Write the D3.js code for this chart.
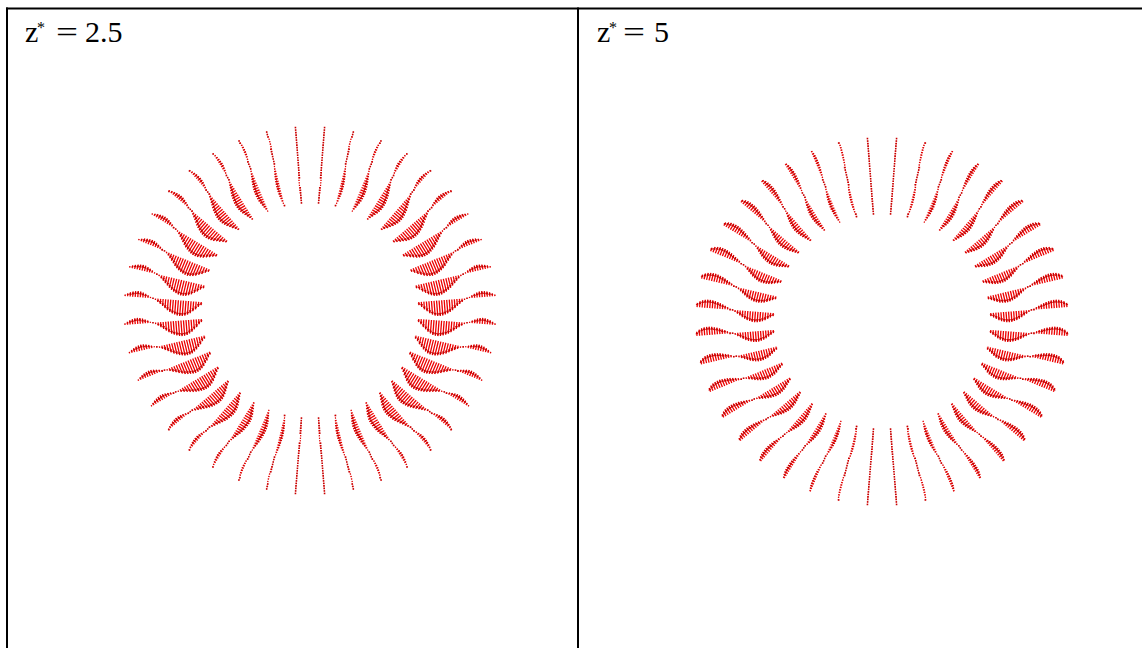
<!DOCTYPE html>
<html>
<head>
<meta charset="utf-8">
<script src="https://cdn.jsdelivr.net/npm/d3@7"></script>
<style>
  html, body { margin: 0; padding: 0; background: #fff; }
  svg { display: block; }
  .title text { font-family: "Liberation Serif", "Times New Roman", "DejaVu Serif", serif; fill: #000; }
</style>
</head>
<body>
<svg id="chart" width="1142" height="648"></svg>
<script>
// Annular gap geometry (dimensionless radius) and the sampling mesh
const innerRadius = 1.0;
const outerRadius = 1.7;
const spokeCount = 40;          // radial lines of arrows
const spokeOffsetDeg = 4.5;     // first line sits half a step off the axis
const stationCount = 31;        // arrows along each radial line

// Panel titles (z* values)
const panelLabels = ["2.5", "5"];

// Azimuthal velocity amplitude along the gap, inner wall -> outer wall
const uThetaZ25 = [-0.20, -0.33, -0.50, -0.63, -0.77, -0.87, -0.95, -0.99, -1.00, -0.98,
                   -0.93, -0.87, -0.79, -0.69, -0.57, -0.45, -0.33, -0.21, -0.10, -0.01,
                    0.08,  0.17,  0.25,  0.32,  0.37,  0.39,  0.37,  0.33,  0.27,  0.19, 0.10];
const uThetaZ5  = [-0.20, -0.30, -0.40, -0.50, -0.58, -0.63, -0.67, -0.68, -0.67, -0.63,
                   -0.58, -0.51, -0.42, -0.32, -0.22, -0.12, -0.03,  0.06,  0.15,  0.23,
                    0.30,  0.37,  0.43,  0.47,  0.51,  0.53,  0.53,  0.51,  0.47,  0.39, 0.27];

const profiles = [uThetaZ25, uThetaZ5];

// Quiver length: data units per unit of velocity
const quiverScale = 0.145;

const svg = d3.select("#chart");
svg.append("rect").attr("width", 1142).attr("height", 648).attr("fill", "#fff");

// Panel centres and title placement
const panels = [
  { cx: 310, cy: 310.5, label: { z: 25, star: 37, eqMid: 67, num: 85 } },
  { cx: 882, cy: 321.5, label: { z: 597, star: 609, eqMid: 634, num: 654 } }
];

const radialMesh = d3.range(stationCount).map(i => innerRadius + (outerRadius - innerRadius) * i / (stationCount - 1));
const spokeAngles = d3.range(spokeCount).map(k => (spokeOffsetDeg + k * 360 / spokeCount) * Math.PI / 180);

panels.forEach((p, pi) => {
  const x = d3.scaleLinear().domain([-outerRadius, outerRadius]).range([p.cx - 185.5, p.cx + 185.5]);
  const y = d3.scaleLinear().domain([-outerRadius, outerRadius]).range([p.cy + 183.5, p.cy - 183.5]);
  const prof = profiles[pi];

  const arrows = [];
  spokeAngles.forEach(th => {
    radialMesh.forEach((r, i) => {
      const ut = prof[i] * Math.cos(th);          // azimuthal component, m = 1 pattern
      const bx = r * Math.cos(th), by = r * Math.sin(th);
      const vx = -Math.sin(th) * ut * quiverScale;
      const vy =  Math.cos(th) * ut * quiverScale;
      arrows.push({ x0: x(bx), y0: y(by), x1: x(bx + vx), y1: y(by + vy) });
    });
  });

  const g = svg.append("g").attr("class", "quiver");

  g.selectAll("line").data(arrows).join("line")
    .attr("x1", d => d.x0).attr("y1", d => d.y0)
    .attr("x2", d => d.x1).attr("y2", d => d.y1)
    .attr("stroke", "#ec0000")
    .attr("stroke-width", 1.3);

  // arrowheads at the tips; very short vectors collapse to a dot
  g.selectAll("path").data(arrows).join("path")
    .attr("d", d => {
      const dx = d.x1 - d.x0, dy = d.y1 - d.y0;
      const L = Math.hypot(dx, dy);
      if (L < 1.2) {
        return `M${d.x0 - 0.8},${d.y0 - 0.8}h1.6v1.6h-1.6z`;
      }
      const ux = dx / L, uy = dy / L;
      const hl = Math.min(2.8, L * 0.55), hw = Math.min(1.5, L * 0.4);
      const bx = d.x1 - ux * hl, by = d.y1 - uy * hl;
      return `M${d.x1},${d.y1}L${bx - uy * hw},${by + ux * hw}L${bx + uy * hw},${by - ux * hw}Z`;
    })
    .attr("fill", "#c80000");

  // panel title
  const t = p.label;
  const lab = svg.append("g").attr("class", "title");
  lab.append("text").attr("x", t.z).attr("y", 42).attr("font-size", 30).text("z");
  lab.append("text").attr("x", t.star).attr("y", 33).attr("font-size", 16).text("*");
  lab.append("text").attr("x", 0).attr("y", 0).attr("font-size", 30)
    .attr("text-anchor", "middle")
    .attr("transform", `translate(${t.eqMid},42) scale(1.3,1)`)
    .text("=");
  lab.append("text").attr("x", t.num).attr("y", 42).attr("font-size", 30).text(panelLabels[pi]);
});

// table rules
const rules = svg.append("g").attr("stroke", "#000").attr("stroke-width", 2);
rules.append("line").attr("x1", 6).attr("x2", 1142).attr("y1", 8.5).attr("y2", 8.5);
rules.append("line").attr("x1", 7).attr("x2", 7).attr("y1", 7.5).attr("y2", 648);
rules.append("line").attr("x1", 578).attr("x2", 578).attr("y1", 7.5).attr("y2", 648);
</script>
</body>
</html>
